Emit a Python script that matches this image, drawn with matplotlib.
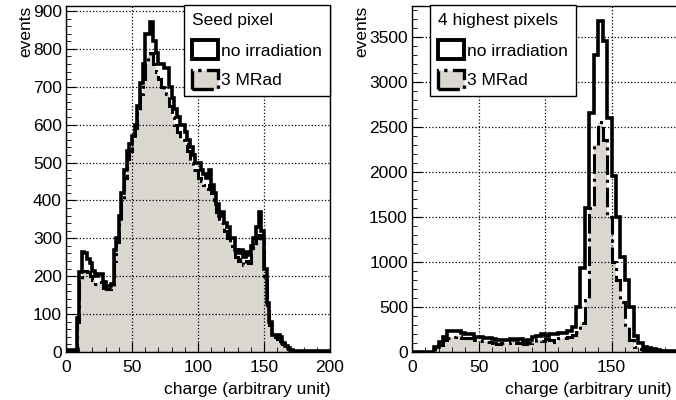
import matplotlib
matplotlib.use("Agg")
import matplotlib.pyplot as plt
from matplotlib.patches import Patch
from matplotlib.ticker import MultipleLocator, FixedLocator
import numpy as np

plt.rcParams['font.family'] = ['Liberation Sans', 'DejaVu Sans']

# seed pixel, 2 unit bins from 0 to 200
seed_noirr = [5, 5, 5, 5, 90, 210, 265, 260, 245, 235,
              215, 200, 205, 205, 185, 175, 175, 180, 270, 300,
              360, 420, 480, 530, 550, 570, 600, 650, 710, 760,
              840, 840, 870, 820, 790, 760, 760, 750, 750, 700,
              670, 640, 620, 600, 600, 580, 560, 540, 520, 500,
              500, 480, 470, 460, 480, 440, 420, 390, 360, 370,
              340, 330, 300, 300, 270, 260, 270, 250, 265, 255,
              280, 300, 330, 370, 320, 220, 130, 80, 45, 45,
              45, 40, 25, 15, 10, 5, 3, 3, 3, 3,
              3, 3, 3, 3, 3, 3, 3, 3, 3, 3]
seed_3mrad = [3, 3, 3, 3, 80, 190, 215, 215, 210, 200,
              190, 180, 185, 185, 170, 165, 165, 170, 240, 290,
              340, 400, 460, 510, 530, 560, 590, 630, 680, 720,
              760, 780, 790, 760, 740, 720, 700, 690, 680, 650,
              620, 600, 580, 560, 560, 550, 530, 500, 480, 480,
              460, 450, 440, 430, 440, 420, 400, 370, 340, 340,
              320, 300, 290, 280, 250, 240, 245, 230, 240, 235,
              260, 280, 300, 310, 290, 200, 120, 70, 45, 40,
              35, 30, 20, 12, 8, 4, 2, 2, 2, 2,
              2, 2, 2, 2, 2, 2, 2, 2, 2, 2]

# 4 highest pixels, 60 bins from 0 to 200
four_noirr = [5, 5, 5, 5, 5, 50, 110, 170, 230, 235,
              235, 210, 200, 195, 170, 170, 160, 155, 145, 135,
              130, 135, 140, 135, 140, 125, 130, 165, 175, 195,
              180, 200, 200, 210, 215, 230, 280, 500, 930, 1600,
              2650, 3300, 3670, 3450, 2600, 1950, 1500, 1050, 800, 500,
              180, 100, 60, 40, 30, 20, 15, 10, 10, 10]
four_3mrad = [3, 3, 3, 3, 3, 30, 80, 130, 160, 170,
              175, 160, 150, 160, 130, 125, 120, 110, 100, 90,
              100, 95, 110, 100, 95, 90, 100, 110, 130, 120,
              140, 130, 115, 150, 160, 170, 190, 220, 320, 580,
              1600, 2300, 2550, 2350, 1500, 1000, 800, 550, 280, 130,
              60, 30, 20, 10, 8, 5, 5, 5, 5, 5]

seed_edges = np.linspace(0, 200, len(seed_noirr) + 1)
four_edges = np.linspace(0, 200, len(four_noirr) + 1)

fill_col = '#dad6d0'
fs = 12.5

fig = plt.figure(figsize=(6.76, 4.0), dpi=100)
ax1 = fig.add_axes([66/676, 48/400, 264/676, 346/400])
ax2 = fig.add_axes([412/676, 48/400, 266/676, 346/400])


def draw(ax, edges, noirr, mrad, ymax, ymaj, ymin, title, xlab_x, loc):
    ax.stairs(mrad, edges, fill=True, color=fill_col, zorder=1)
    ax.stairs(mrad, edges, color='black', lw=2.2, linestyle='-.', zorder=3)
    ax.stairs(noirr, edges, color='black', lw=2.6, zorder=4)
    ax.set_xlim(0, 200)
    ax.set_ylim(0, ymax)
    ax.xaxis.set_minor_locator(MultipleLocator(10))
    ax.yaxis.set_major_locator(MultipleLocator(ymaj))
    ax.yaxis.set_minor_locator(MultipleLocator(ymin))
    ax.tick_params(which='both', direction='in', top=False, right=False,
                   labelsize=fs, pad=3)
    ax.tick_params(axis='x', pad=6)
    ax.tick_params(which='major', length=7)
    ax.tick_params(which='minor', length=3.5)
    ax.grid(True, which='major', linestyle=':', color='black', lw=0.9, zorder=2)
    ax.set_axisbelow(False)
    for s in ax.spines.values():
        s.set_linewidth(1.0)
    ax.set_xlabel('charge (arbitrary unit)', fontsize=fs, ha='right')
    ax.xaxis.set_label_coords(xlab_x, -0.088)
    ax.set_ylabel('events', fontsize=fs, loc='top', labelpad=0)
    handles = [Patch(facecolor='white', edgecolor='black', lw=2.8),
               Patch(facecolor=fill_col, edgecolor='black', lw=2.4, linestyle='-.')]
    leg = ax.legend(handles, ['no irradiation', '3 MRad'], title=title,
                    loc=loc, fancybox=False,
                    framealpha=1, edgecolor='black', fontsize=fs, title_fontsize=fs,
                    handlelength=1.5, handleheight=1.3, handletextpad=0.2,
                    borderaxespad=0, borderpad=0.45, labelspacing=0.6)
    leg._legend_box.align = 'left'
    leg._legend_box.sep = 9
    leg.get_frame().set_linewidth(1.0)
    leg.set_zorder(10)
    return leg


ax1.xaxis.set_major_locator(MultipleLocator(50))
ax2.xaxis.set_major_locator(FixedLocator([0, 50, 100, 150]))
leg1 = draw(ax1, seed_edges, seed_noirr, seed_3mrad, 913, 100, 20, 'Seed pixel',
            1.0, 'upper right')
leg1.set_bbox_to_anchor((330/676, 1 - 5/400), transform=fig.transFigure)
leg2 = draw(ax2, four_edges, four_noirr, four_3mrad, 3840, 500, 100, '4 highest pixels',
            (671 - 412) / 266, 'upper left')
leg2.set_bbox_to_anchor((430/676, 1 - 5/400), transform=fig.transFigure)

fig.savefig('out.png', dpi=100)
